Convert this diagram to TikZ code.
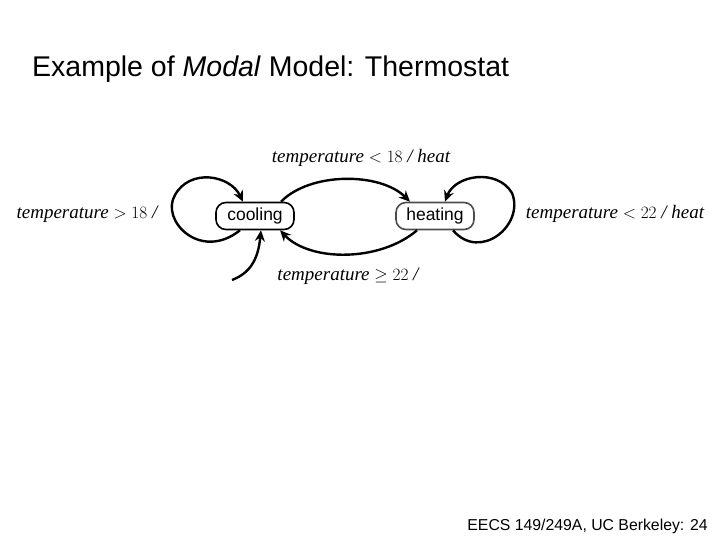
\documentclass[tikz,border=0pt]{standalone}
\usepackage{fontspec}
\setmainfont{Liberation Serif}
\newfontfamily\arialf{Liberation Sans}
\usetikzlibrary{arrows.meta}
\begin{document}
\begin{tikzpicture}[x=1pt,y=-1pt,
  state/.style={draw,line width=1.6pt,rounded corners=10pt,minimum width=78pt,minimum height=27pt,inner sep=0pt,font=\arialf\fontsize{17.5}{17.5}\selectfont},
  lbl/.style={font=\itshape\fontsize{19}{19}\selectfont,inner sep=0pt},
  edge/.style={line width=2.4pt,-{Stealth[length=11pt,width=10pt]}}]
\useasboundingbox (0,0) rectangle (720,540);
\node[anchor=base west,font=\arialf\fontsize{28.5}{28}\selectfont,inner sep=0pt] (title) at (32,77) {Example of \textit{Modal} Model: Thermostat};
\node[anchor=base east,font=\arialf\fontsize{15.8}{15}\selectfont,inner sep=0pt] (foot) at (708,530) {EECS 149/249A, UC Berkeley: 24};
\node[state] (cool) at (255,216) {cooling};
\node[state,draw=black!70] (heat) at (435,216) {heating};
\node[lbl] (l1) at (361,158) {temperature $<18$ / heat};
\node[lbl] (l2) at (87,214) {temperature $>18$ /};
\node[lbl] (l3) at (615,214) {temperature $<22$ / heat};
\node[lbl] (l4) at (348,276) {temperature $\geq22$ /};
\coordinate (init) at (232,280);
\draw[edge] ([xshift=26pt]cool.north) .. controls (310,172) and (380,172) .. ([xshift=-25pt]heat.north);
\draw[edge] ([xshift=-18pt]heat.south) .. controls (380,262) and (310,262) .. ([xshift=25pt]cool.south);
\draw[edge] ([xshift=-15pt]cool.south) .. controls (200,262) and (160,220) .. (175,195) .. controls (190,168) and (230,175) .. ([xshift=-12pt]cool.north);
\draw[edge] ([xshift=18pt]heat.south) .. controls (480,262) and (525,225) .. (512,193) .. controls (497,168) and (455,175) .. ([xshift=10pt]heat.north);
\draw[edge] (init) .. controls (250,273) and (258,260) .. ([xshift=6pt]cool.south);
\end{tikzpicture}
\end{document}
